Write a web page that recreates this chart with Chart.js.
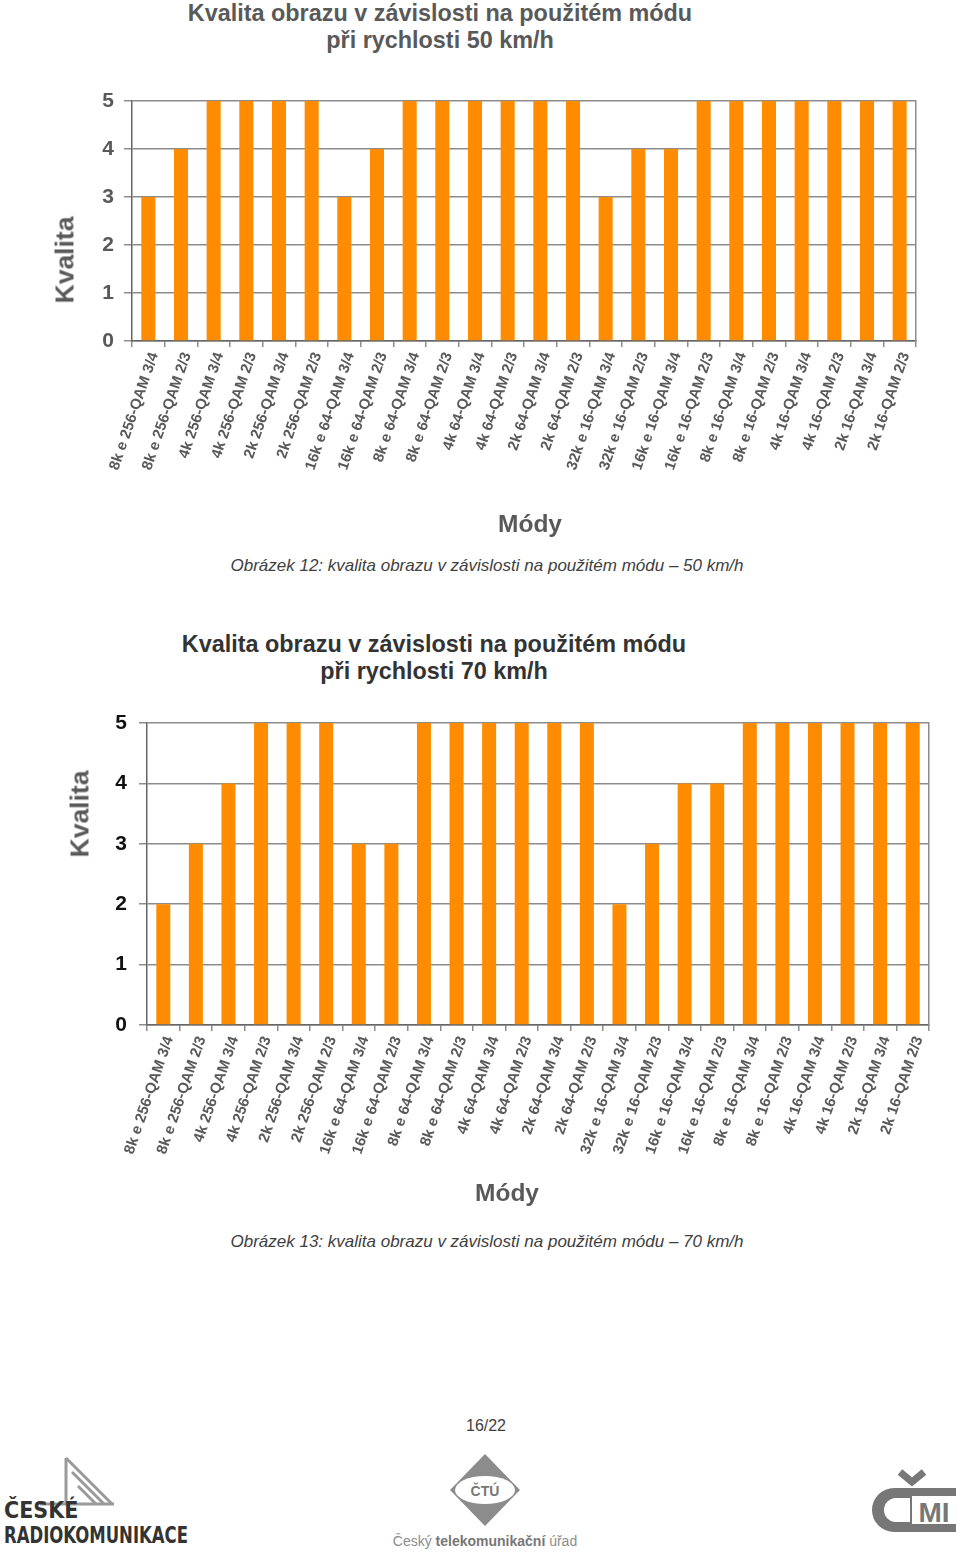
<!DOCTYPE html>
<html lang="cs">
<head>
<meta charset="utf-8">
<title>Kvalita obrazu v závislosti na použitém módu</title>
<script src="https://cdn.jsdelivr.net/npm/chart.js@4.4.1/dist/chart.umd.min.js"></script>
<style>
  html, body { margin: 0; padding: 0; background: #fff; }
  body { width: 960px; height: 1552px; position: relative; overflow: hidden;
         font-family: Arial, "Liberation Sans", sans-serif; }
  .abs { position: absolute; white-space: nowrap; }
  .title { font-weight: bold; font-size: 23.4px; line-height: 27px; text-align: center; }
  .axt { font-weight: bold; font-size: 24.5px; color: #595959; transform: translate(-50%, -50%); }
  .axt.rot { font-size: 26.5px; transform: translate(-50%, -50%) rotate(-90deg); }
  .cap { font-style: italic; font-size: 17px; color: #404040; transform: translate(-50%, -50%); }
  canvas { position: absolute; left: 0; }
</style>
</head>
<body>

<div class="abs title" style="left:0;top:0;width:880px;color:#595959;">Kvalita obrazu v závislosti na použitém módu<br>při rychlosti 50 km/h</div>
<canvas id="chart50" width="960" height="490" style="top:60px"></canvas>
<div class="abs axt rot" style="left:65px;top:260px;">Kvalita</div>
<div class="abs axt" style="left:530px;top:524px;">Módy</div>
<div class="abs cap" style="left:487px;top:566px;">Obrázek 12: kvalita obrazu v závislosti na použitém módu – 50 km/h</div>

<div class="abs title" style="left:0;top:631px;width:868px;color:#333;">Kvalita obrazu v závislosti na použitém módu<br>při rychlosti 70 km/h</div>
<canvas id="chart70" width="960" height="490" style="top:690px"></canvas>
<div class="abs axt rot" style="left:80px;top:814px;">Kvalita</div>
<div class="abs axt" style="left:507px;top:1193px;">Módy</div>
<div class="abs cap" style="left:487px;top:1242px;">Obrázek 13: kvalita obrazu v závislosti na použitém módu – 70 km/h</div>

<div class="abs" style="left:486px;top:1426px;transform:translate(-50%,-50%);font-size:16px;color:#404040;">16/22</div>

<!-- loga v paticce -->
<svg class="abs" style="left:0;top:1452px" width="200" height="100">
  <g stroke="#9a9a9a" stroke-width="3">
    <line x1="66" y1="6" x2="66" y2="52"/>
    <line x1="66" y1="6" x2="112" y2="52"/>
    <line x1="72" y1="20" x2="104" y2="52"/>
    <line x1="78" y1="34" x2="96" y2="52"/>
    <line x1="40" y1="52" x2="114" y2="52"/>
  </g>
  <text x="4" y="66" font-family="DejaVu Sans Condensed, Liberation Sans Narrow, sans-serif" font-weight="bold" font-size="23" fill="#333">ČESKÉ</text>
  <text x="4" y="91" font-family="DejaVu Sans Condensed, Liberation Sans Narrow, sans-serif" font-weight="bold" font-size="23" fill="#333" textLength="184" lengthAdjust="spacingAndGlyphs">RADIOKOMUNIKACE</text>
</svg>
<svg class="abs" style="left:390px;top:1452px" width="190" height="100">
  <polygon points="95,2 130,38 95,74 60,38" fill="#8c8c8c"/>
  <ellipse cx="95" cy="38" rx="30" ry="14" fill="#fff"/>
  <text x="95" y="44" text-anchor="middle" font-family="Arial, sans-serif" font-weight="bold" font-size="14" fill="#777">ČTÚ</text>
  <text x="95" y="94" text-anchor="middle" font-family="Arial, sans-serif" font-size="14" fill="#8c8c8c">Český <tspan font-weight="bold" fill="#777">telekomunikační</tspan> úřad</text>
</svg>
<svg class="abs" style="left:860px;top:1468px" width="100" height="72">
  <path d="M40,4 L52,14 L64,4" stroke="#777" stroke-width="7" fill="none"/>
  <path d="M96,20 L34,20 A22,22 0 0 0 34,64 L96,64 Z" fill="#777"/>
  <path d="M50,30 L36,30 A12,12 0 0 0 36,54 L50,54 Z" fill="#fff"/>
  <rect x="52" y="28" width="44" height="28" fill="#fff"/>
  <text x="74" y="54" text-anchor="middle" font-family="Arial, sans-serif" font-weight="bold" font-size="28" fill="#777">MI</text>
</svg>

<script>
// kategorie (mody)
const mody = [
  '8k e 256-QAM 3/4', '8k e 256-QAM 2/3', '4k 256-QAM 3/4', '4k 256-QAM 2/3',
  '2k 256-QAM 3/4', '2k 256-QAM 2/3', '16k e 64-QAM 3/4', '16k e 64-QAM 2/3',
  '8k e 64-QAM 3/4', '8k e 64-QAM 2/3', '4k 64-QAM 3/4', '4k 64-QAM 2/3',
  '2k 64-QAM 3/4', '2k 64-QAM 2/3', '32k e 16-QAM 3/4', '32k e 16-QAM 2/3',
  '16k e 16-QAM 3/4', '16k e 16-QAM 2/3', '8k e 16-QAM 3/4', '8k e 16-QAM 2/3',
  '4k 16-QAM 3/4', '4k 16-QAM 2/3', '2k 16-QAM 3/4', '2k 16-QAM 2/3'
];

// kvalita pri 50 km/h
const kvalita50 = [3, 4, 5, 5, 5, 5, 3, 4, 5, 5, 5, 5, 5, 5, 3, 4, 4, 5, 5, 5, 5, 5, 5, 5];
// kvalita pri 70 km/h
const kvalita70 = [2, 3, 4, 5, 5, 5, 3, 3, 5, 5, 5, 5, 5, 5, 2, 3, 4, 4, 5, 5, 5, 5, 5, 5];

const yTicks = [0, 1, 2, 3, 4, 5];

const pismo = 'Arial, "Liberation Sans", sans-serif';
const oranzova = '#ff8c00';
const seda = '#8c8c8c';

function vytvorGraf(id, data, o) {
  const ctx = document.getElementById(id).getContext('2d');
  return new Chart(ctx, {
    type: 'bar',
    data: {
      labels: mody,
      datasets: [{
        data: data,
        backgroundColor: oranzova,
        borderWidth: 0,
        categoryPercentage: 1,
        barPercentage: 0.43
      }]
    },
    options: {
      responsive: false,
      animation: false,
      devicePixelRatio: 1,
      layout: { padding: { top: o.top, right: o.right, bottom: 0, left: 0 } },
      plugins: { legend: { display: false }, tooltip: { enabled: false } },
      scales: {
        x: {
          ticks: {
            autoSkip: false, minRotation: 71, maxRotation: 71,
            color: '#595959', padding: 3, labelOffset: 6,
            font: { family: pismo, size: 15, weight: 'bold' }
          },
          grid: { drawOnChartArea: false, drawTicks: true, tickLength: 6, color: seda, lineWidth: 1.5, offset: true },
          border: { color: '#666', width: 1.5 },
          afterFit: s => { s.height = o.xHeight; }
        },
        y: {
          min: 0, max: 5,
          afterBuildTicks: s => { s.ticks = yTicks.map(v => ({ value: v })); },
          ticks: {
            color: o.tickColor, padding: o.tickPad,
            font: { family: pismo, size: 21, weight: 'bold' }
          },
          grid: { color: seda, lineWidth: 1.5, tickLength: 8 },
          border: { color: '#666', width: 1.5 },
          afterFit: s => { s.width = o.left; }
        },
        y2: {
          position: 'right', min: 0, max: 5,
          ticks: { display: false },
          grid: { drawOnChartArea: false, drawTicks: false },
          border: { color: seda, width: 1.5 },
          afterFit: s => { s.width = 0; }
        }
      }
    }
  });
}

vytvorGraf('chart50', kvalita50, { top: 41, right: 44, left: 132, xHeight: 209, tickColor: '#595959', tickPad: 10 });
vytvorGraf('chart70', kvalita70, { top: 33, right: 31, left: 147, xHeight: 155, tickColor: '#111', tickPad: 12 });
</script>
</body>
</html>
